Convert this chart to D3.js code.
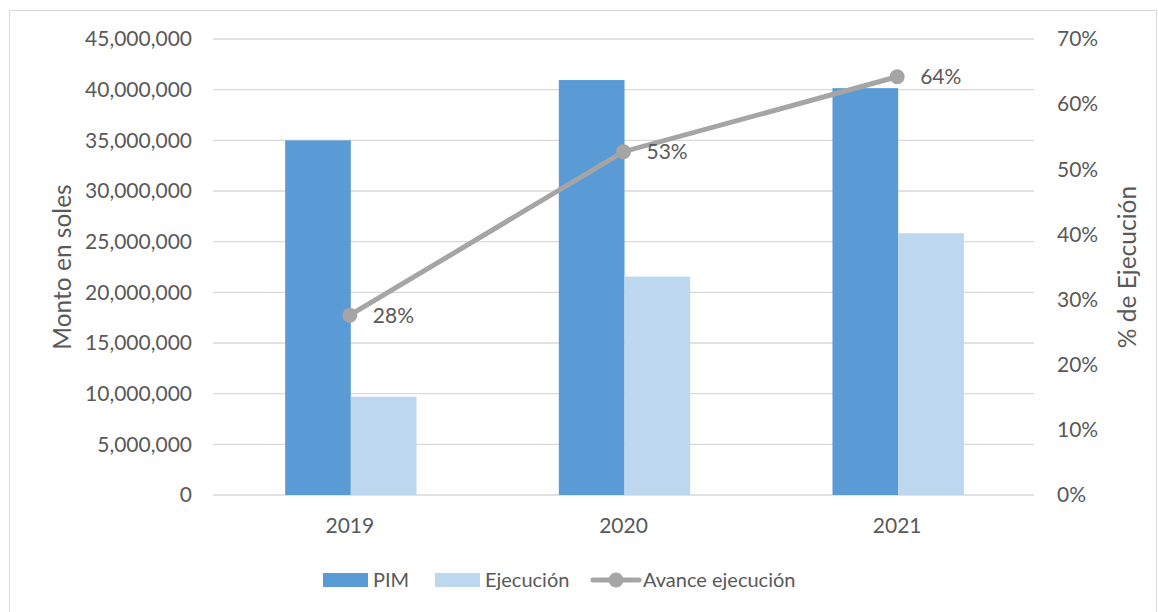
<!DOCTYPE html>
<html>
<head>
<meta charset="utf-8">
<script src="https://cdn.jsdelivr.net/npm/d3@7"></script>
<style>
  body { margin: 0; background: #fff; }
  text { font-family: Lato, "Open Sans", sans-serif; fill: #595959; }
</style>
</head>
<body>
<div id="chart"></div>
<script>
// chart values
const years = ["2019", "2020", "2021"];
const pim = [35000000, 40950000, 40150000];
const ejecucion = [9700000, 21550000, 25830000];
const avance = [0.276, 0.527, 0.642];
const avanceLabels = ["28%", "53%", "64%"];
const leftTicks = [0, 5e6, 10e6, 15e6, 20e6, 25e6, 30e6, 35e6, 40e6, 45e6];
const rightTicks = [0, 0.1, 0.2, 0.3, 0.4, 0.5, 0.6, 0.7];

const width = 1158, height = 612;
const margin = { top: 39, left: 213, right: 124, bottom: 117 };
const innerW = width - margin.left - margin.right,
      innerH = height - margin.top - margin.bottom;

const colors = { pim: "#5B9BD5", ejec: "#BDD7EE", line: "#A5A5A5", grid: "#D9D9D9" };

let svg = d3.select("#chart")
  .append("svg")
    .attr("width", width)
    .attr("height", height);

// outer frame
svg.append("rect")
  .attr("x", 9.5).attr("y", 10.5)
  .attr("width", width - 11).attr("height", height)
  .attr("fill", "none")
  .attr("stroke", colors.grid);

let g = svg.append("g")
  .attr("transform", "translate(" + margin.left + "," + margin.top + ")");

// scales
let x = d3.scaleBand().domain(years).range([0, innerW]);
let y = d3.scaleLinear().domain([0, 45e6]).range([innerH, 0]);
let y2 = d3.scaleLinear().domain([0, 0.7]).range([innerH, 0]);

// gridlines
g.append("g")
  .selectAll("line")
  .data(leftTicks)
  .join("line")
    .attr("x1", 0).attr("x2", innerW)
    .attr("y1", d => y(d)).attr("y2", d => y(d))
    .attr("stroke", colors.grid)
    .attr("stroke-width", 1.3);

// left axis
let yAxis = g.append("g")
  .call(d3.axisLeft(y).tickValues(leftTicks).tickFormat(d3.format(",")).tickSize(0).tickPadding(21));
yAxis.select(".domain").remove();
yAxis.selectAll("text").style("font-size", "21px").attr("fill", "#595959");

// right axis
let y2Axis = g.append("g")
  .attr("transform", "translate(" + innerW + ",0)")
  .call(d3.axisRight(y2).tickValues(rightTicks).tickFormat(d3.format(".0%")).tickSize(0).tickPadding(23));
y2Axis.select(".domain").remove();
y2Axis.selectAll("text").style("font-size", "21px").attr("fill", "#595959");

// x axis
let xAxis = g.append("g")
  .attr("transform", "translate(0," + innerH + ")")
  .call(d3.axisBottom(x).tickSize(0).tickPadding(23));
xAxis.select(".domain").remove();
xAxis.selectAll("text").style("font-size", "21px").attr("fill", "#595959");

// bars
const barW = x.bandwidth() * 0.24;

g.append("g")
  .selectAll("rect")
  .data(pim)
  .join("rect")
    .attr("x", (d, i) => x(years[i]) + x.bandwidth() / 2 - barW + 1)
    .attr("y", d => y(d))
    .attr("width", barW)
    .attr("height", d => innerH - y(d))
    .attr("fill", colors.pim);

g.append("g")
  .selectAll("rect")
  .data(ejecucion)
  .join("rect")
    .attr("x", (d, i) => x(years[i]) + x.bandwidth() / 2 + 1)
    .attr("y", d => y(d))
    .attr("width", barW)
    .attr("height", d => innerH - y(d))
    .attr("fill", colors.ejec);

// line
let line = d3.line()
  .x((d, i) => x(years[i]) + x.bandwidth() / 2)
  .y(d => y2(d));

g.append("path")
  .datum(avance)
  .attr("d", line)
  .attr("fill", "none")
  .attr("stroke", colors.line)
  .attr("stroke-width", 5)
  .attr("stroke-linecap", "round");

g.append("g")
  .selectAll("circle")
  .data(avance)
  .join("circle")
    .attr("cx", (d, i) => x(years[i]) + x.bandwidth() / 2)
    .attr("cy", d => y2(d))
    .attr("r", 7.5)
    .attr("fill", colors.line);

g.append("g")
  .selectAll("text")
  .data(avance)
  .join("text")
    .attr("x", (d, i) => x(years[i]) + x.bandwidth() / 2 + 23)
    .attr("y", d => y2(d))
    .attr("dy", "0.35em")
    .style("font-size", "21px")
    .text((d, i) => avanceLabels[i]);

// axis titles
svg.append("text")
  .attr("transform", "translate(71," + (margin.top + innerH / 2) + ") rotate(-90)")
  .attr("text-anchor", "middle")
  .style("font-size", "24.5px")
  .text("Monto en soles");

svg.append("text")
  .attr("transform", "translate(1136," + (margin.top + innerH / 2) + ") rotate(-90)")
  .attr("text-anchor", "middle")
  .style("font-size", "24.5px")
  .text("% de Ejecución");

// legend
let legend = svg.append("g").attr("transform", "translate(0,580)");

legend.append("rect").attr("x", 323).attr("y", -7).attr("width", 45).attr("height", 14).attr("fill", colors.pim);
legend.append("text").attr("x", 373).attr("dy", "0.35em").style("font-size", "20px").text("PIM");

legend.append("rect").attr("x", 435).attr("y", -7).attr("width", 45).attr("height", 14).attr("fill", colors.ejec);
legend.append("text").attr("x", 485).attr("dy", "0.35em").style("font-size", "20px").text("Ejecución");

legend.append("line").attr("x1", 593).attr("x2", 639).attr("y1", 0).attr("y2", 0)
  .attr("stroke", colors.line).attr("stroke-width", 5).attr("stroke-linecap", "round");
legend.append("circle").attr("cx", 616).attr("cy", 0).attr("r", 7.5).attr("fill", colors.line);
legend.append("text").attr("x", 643).attr("dy", "0.35em").style("font-size", "20px").text("Avance ejecución");
</script>
</body>
</html>
